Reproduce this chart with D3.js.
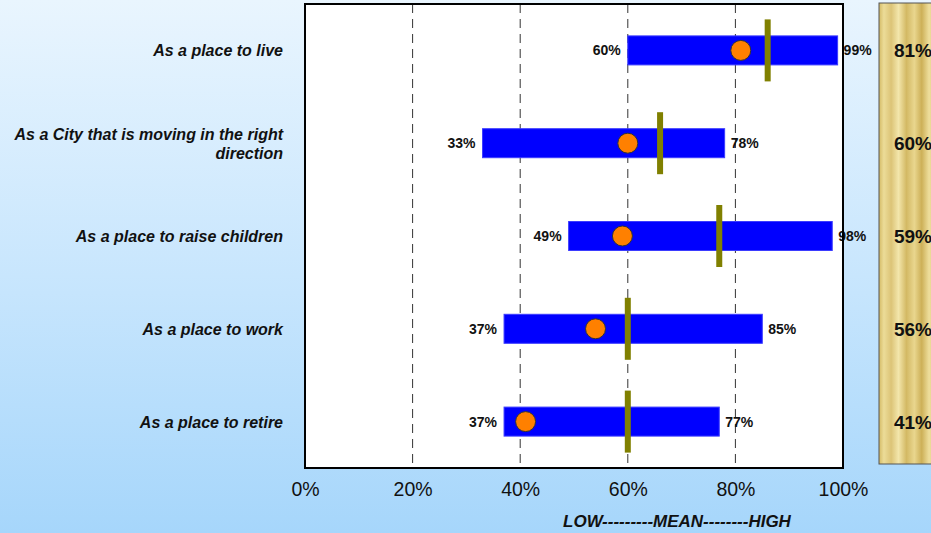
<!DOCTYPE html>
<html>
<head>
<meta charset="utf-8">
<script src="https://cdn.jsdelivr.net/npm/d3@7"></script>
<style>
  html, body { margin: 0; padding: 0; }
  body { width: 931px; height: 533px; overflow: hidden; }
  text { font-family: "Liberation Sans", Arial, sans-serif; }
</style>
</head>
<body>
<svg id="chart" width="931" height="533"></svg>
<script>
// Ratings per item: range of scores (low/high), mean, a benchmark, and the overall score
const categories = [
  "As a place to live",
  "As a City that is moving in the right direction",
  "As a place to raise children",
  "As a place to work",
  "As a place to retire"
];
const lowValues = [60, 33, 49, 37, 37];
const highValues = [99, 78, 98, 85, 77];
const meanValues = [81, 60, 59, 54, 41];
const benchmarkValues = [86, 66, 77, 60, 60];
const scoreValues = [81, 60, 59, 56, 41];
const tickValues = [0, 20, 40, 60, 80, 100];
const axisTitle = "LOW---------MEAN--------HIGH";

const svg = d3.select("#chart");
const W = 931, H = 533;
const defs = svg.append("defs");

// background gradient
const bg = defs.append("linearGradient").attr("id", "bg")
  .attr("x1", 0).attr("y1", 0).attr("x2", 0).attr("y2", 1);
bg.append("stop").attr("offset", "0%").attr("stop-color", "#e9f5fe");
bg.append("stop").attr("offset", "55%").attr("stop-color", "#c6e5fd");
bg.append("stop").attr("offset", "100%").attr("stop-color", "#a6d6fb");
svg.append("rect").attr("width", W).attr("height", H).attr("fill", "url(#bg)");

// gold panel gradient with vertical streaks
const gold = defs.append("linearGradient").attr("id", "gold")
  .attr("x1", 0).attr("y1", 0).attr("x2", 1).attr("y2", 0);
[["0%", "#d4bb66"], ["8%", "#ecdc98"], ["20%", "#dcc477"], ["32%", "#f3e6ab"],
 ["45%", "#d3b964"], ["58%", "#e9d68e"], ["70%", "#cdb058"], ["82%", "#eede9c"],
 ["100%", "#d7bf6c"]].forEach(([o, c]) =>
  gold.append("stop").attr("offset", o).attr("stop-color", c));

const plot = { left: 305, right: 843, top: 4, bottom: 468 };

const x = d3.scaleLinear().domain([0, 100]).range([plot.left, plot.right]);
const y = d3.scaleBand().domain(categories)
  .range([plot.top, plot.bottom]).paddingInner(0.68).paddingOuter(0.34);

// plot area
svg.append("rect")
  .attr("x", plot.left).attr("y", plot.top)
  .attr("width", plot.right - plot.left).attr("height", plot.bottom - plot.top)
  .attr("fill", "#ffffff");

// dashed gridlines
svg.append("g").selectAll("line")
  .data(tickValues.filter(d => d > 0 && d < 100))
  .join("line")
  .attr("x1", d => x(d)).attr("x2", d => x(d))
  .attr("y1", plot.top).attr("y2", plot.bottom)
  .attr("stroke", "#333").attr("stroke-width", 1)
  .attr("stroke-dasharray", "9,6");

// x axis tick labels
const axis = d3.axisBottom(x).tickValues(tickValues)
  .tickFormat(d => d + "%").tickSize(0).tickPadding(14);
const ax = svg.append("g").attr("transform", `translate(0,${plot.bottom})`).call(axis);
ax.select(".domain").remove();
ax.selectAll("text").attr("font-size", 19.5).attr("fill", "#111")
  .style("font-family", "'Liberation Sans', Arial, sans-serif");

svg.append("text")
  .attr("x", 677).attr("y", 527)
  .attr("text-anchor", "middle")
  .attr("font-size", 17).attr("font-weight", "bold").attr("font-style", "italic")
  .attr("fill", "#111")
  .text(axisTitle);

const rows = categories.map((c, i) => ({
  cat: c, low: lowValues[i], high: highValues[i], mean: meanValues[i],
  bench: benchmarkValues[i], score: scoreValues[i]
}));

const barH = 29;
const cy = d => y(d.cat) + y.bandwidth() / 2;

// range bars
svg.append("g").selectAll("rect").data(rows).join("rect")
  .attr("x", d => x(d.low)).attr("width", d => x(d.high) - x(d.low))
  .attr("y", d => cy(d) - barH / 2).attr("height", barH)
  .attr("fill", "#0000ff").attr("stroke", "#3b3bff").attr("stroke-width", 1);

// benchmark markers
svg.append("g").selectAll("rect").data(rows).join("rect")
  .attr("x", d => x(d.bench) - 3).attr("width", 6)
  .attr("y", d => cy(d) - 31).attr("height", 62)
  .attr("fill", "#808000");

// mean markers
svg.append("g").selectAll("circle").data(rows).join("circle")
  .attr("cx", d => x(d.mean)).attr("cy", d => cy(d))
  .attr("r", 10)
  .attr("fill", "#ff8000").attr("stroke", "#333").attr("stroke-width", 1);

// low / high value labels
svg.append("g").selectAll("text").data(rows).join("text")
  .attr("x", d => x(d.low) - 7).attr("y", d => cy(d) + 5)
  .attr("text-anchor", "end")
  .attr("font-size", 14).attr("font-weight", "bold").attr("fill", "#111")
  .text(d => d.low + "%");
svg.append("g").selectAll("text").data(rows).join("text")
  .attr("x", d => x(d.high) + 6).attr("y", d => cy(d) + 5)
  .attr("text-anchor", "start")
  .attr("font-size", 14).attr("font-weight", "bold").attr("fill", "#111")
  .text(d => d.high + "%");

// plot border
svg.append("rect")
  .attr("x", plot.left).attr("y", plot.top)
  .attr("width", plot.right - plot.left).attr("height", plot.bottom - plot.top)
  .attr("fill", "none").attr("stroke", "#000").attr("stroke-width", 2);

// category labels (wrapped to the label column)
const labelRight = 283;
const labels = svg.append("g").selectAll("text").data(rows).join("text")
  .attr("text-anchor", "end")
  .attr("font-size", 16).attr("font-weight", "bold").attr("font-style", "italic")
  .attr("fill", "#111");
labels.each(function(d) {
  const t = d3.select(this);
  const words = d.cat.split(" ");
  const lines = [];
  let cur = [];
  const probe = t.append("tspan");
  words.forEach(w => {
    cur.push(w);
    probe.text(cur.join(" "));
    if (probe.node().getComputedTextLength() > 280 && cur.length > 1) {
      cur.pop();
      lines.push(cur.join(" "));
      cur = [w];
    }
  });
  lines.push(cur.join(" "));
  probe.remove();
  const lh = 19;
  const y0 = cy(d) + 6 - (lines.length - 1) * lh / 2;
  lines.forEach((ln, k) => {
    t.append("tspan").attr("x", labelRight).attr("y", y0 + k * lh).text(ln);
  });
});

// score panel
const panel = { left: 879, right: 940, top: 3, bottom: 464 };
svg.append("rect")
  .attr("x", panel.left).attr("y", panel.top)
  .attr("width", panel.right - panel.left).attr("height", panel.bottom - panel.top)
  .attr("fill", "url(#gold)").attr("stroke", "#555").attr("stroke-width", 1);
svg.append("g").selectAll("text").data(rows).join("text")
  .attr("x", 913).attr("y", d => cy(d) + 7)
  .attr("text-anchor", "middle")
  .attr("font-size", 19).attr("font-weight", "bold").attr("fill", "#111")
  .text(d => d.score + "%");
</script>
</body>
</html>
